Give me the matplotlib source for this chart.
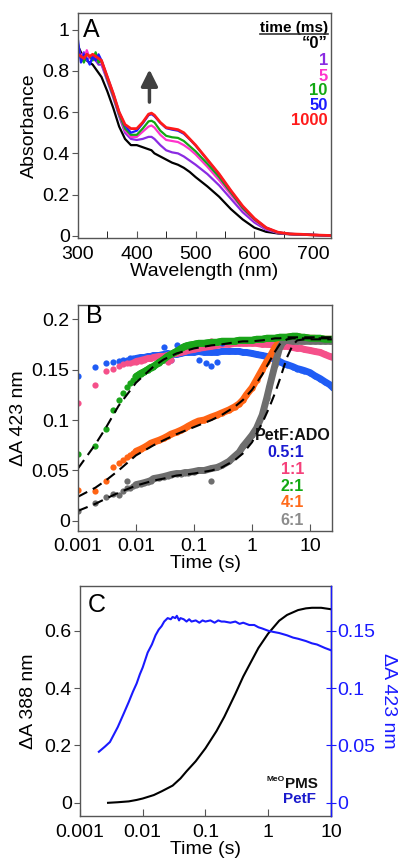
import numpy as np
import matplotlib
matplotlib.use("Agg")
import matplotlib.pyplot as plt
from matplotlib.lines import Line2D

plt.rcParams['font.family'] = ['Liberation Sans', 'DejaVu Sans']
plt.rcParams['axes.linewidth'] = 1.0

# ---------------- Panel A data ----------------
wl = [300, 305, 310, 315, 320, 325, 330, 335, 340, 350, 360, 370, 380, 390, 400, 410,
      420, 425, 430, 440, 450, 460, 470, 480, 490, 500, 520, 540, 560, 580, 600, 620,
      640, 660, 680, 700, 730]
abs_0 = [0.92, 0.89, 0.86, 0.85, 0.84, 0.83, 0.81, 0.79, 0.77, 0.70, 0.62, 0.53, 0.47, 0.44, 0.44, 0.43,
         0.42, 0.415, 0.40, 0.385, 0.37, 0.355, 0.345, 0.33, 0.31, 0.285, 0.24, 0.19, 0.13, 0.08, 0.04, 0.02,
         0.012, 0.008, 0.006, 0.004, 0.002]
abs_1 = [0.93, 0.86, 0.89, 0.85, 0.87, 0.86, 0.85, 0.83, 0.83, 0.75, 0.67, 0.58, 0.50, 0.47, 0.465, 0.47,
         0.48, 0.48, 0.47, 0.44, 0.415, 0.405, 0.40, 0.385, 0.365, 0.345, 0.30, 0.245, 0.18, 0.115, 0.065, 0.03,
         0.014, 0.009, 0.007, 0.005, 0.002]
abs_5 = [0.90, 0.88, 0.85, 0.90, 0.86, 0.88, 0.85, 0.87, 0.84, 0.76, 0.68, 0.59, 0.51, 0.48, 0.48, 0.505,
         0.53, 0.535, 0.525, 0.49, 0.465, 0.46, 0.455, 0.44, 0.42, 0.395, 0.335, 0.27, 0.20, 0.13, 0.075, 0.035,
         0.015, 0.01, 0.007, 0.005, 0.002]
abs_10 = [0.89, 0.87, 0.84, 0.88, 0.87, 0.85, 0.89, 0.84, 0.85, 0.76, 0.68, 0.59, 0.52, 0.49, 0.49, 0.52,
          0.555, 0.558, 0.55, 0.51, 0.485, 0.478, 0.475, 0.46, 0.435, 0.41, 0.35, 0.285, 0.21, 0.135, 0.08, 0.038,
          0.016, 0.01, 0.007, 0.005, 0.002]
abs_50 = [0.95, 0.84, 0.88, 0.86, 0.83, 0.87, 0.85, 0.88, 0.85, 0.77, 0.69, 0.60, 0.535, 0.50, 0.51, 0.545,
          0.585, 0.59, 0.58, 0.548, 0.522, 0.515, 0.51, 0.495, 0.468, 0.438, 0.368, 0.298, 0.218, 0.142, 0.083, 0.04,
          0.017, 0.01, 0.008, 0.005, 0.002]
abs_1000 = [0.88, 0.87, 0.86, 0.88, 0.87, 0.88, 0.87, 0.86, 0.85, 0.77, 0.69, 0.60, 0.54, 0.52, 0.52, 0.55,
            0.59, 0.595, 0.585, 0.55, 0.525, 0.52, 0.515, 0.50, 0.47, 0.44, 0.37, 0.30, 0.22, 0.145, 0.085, 0.04,
            0.018, 0.01, 0.008, 0.005, 0.002]
time_labels = ['\u201c0\u201d', '1', '5', '10', '50', '1000']
colors_A = ['#000000', '#8a2be2', '#ff33cc', '#12a812', '#1a1aff', '#ff1a1a']

# ---------------- Panel B data ----------------
tB = [0.001, 0.002, 0.003, 0.004, 0.005, 0.006, 0.007, 0.008, 0.009, 0.01,
      0.012, 0.014, 0.016, 0.018, 0.02, 0.025, 0.03, 0.035, 0.04, 0.05, 0.06, 0.07, 0.08,
      0.1, 0.12, 0.15, 0.2, 0.25, 0.3, 0.4, 0.5, 0.6, 0.7, 0.8, 1.0, 1.2, 1.5, 1.8,
      2.0, 2.5, 3.0, 3.5, 4.0, 5.0, 6.0, 7.0, 8.0, 10, 12, 15, 18, 22, 25]
dA_05 = [0.1435, 0.153, 0.157, 0.158, 0.159, 0.16, 0.16, 0.161, 0.161, 0.161,
         0.162, 0.162, 0.163, 0.163, 0.164, 0.164, 0.165, 0.166, 0.165, 0.165, 0.166, 0.167, 0.167,
         0.167, 0.168, 0.167, 0.167, 0.167, 0.168, 0.168, 0.168, 0.168, 0.167, 0.167, 0.166, 0.165, 0.164, 0.163,
         0.162, 0.16, 0.158, 0.156, 0.155, 0.153, 0.151, 0.15, 0.149, 0.147, 0.144, 0.141, 0.138, 0.135, 0.132]
dA_1 = [0.117, 0.1345, 0.149, 0.151, 0.154, 0.156, 0.157, 0.157, 0.158, 0.158,
        0.159, 0.16, 0.161, 0.161, 0.162, 0.163, 0.163, 0.164, 0.165, 0.166, 0.167, 0.168, 0.169,
        0.17, 0.171, 0.172, 0.173, 0.174, 0.175, 0.175, 0.176, 0.176, 0.176, 0.176, 0.176, 0.176, 0.175, 0.175,
        0.175, 0.174, 0.174, 0.173, 0.173, 0.172, 0.171, 0.171, 0.17, 0.169, 0.168, 0.167, 0.165, 0.163, 0.162]
dA_2 = [0.066, 0.074, 0.0915, 0.11, 0.12, 0.127, 0.133, 0.137, 0.14, 0.143,
        0.146, 0.148, 0.15, 0.152, 0.153, 0.157, 0.16, 0.163, 0.165, 0.168, 0.171, 0.173, 0.174,
        0.175, 0.176, 0.176, 0.177, 0.177, 0.178, 0.178, 0.178, 0.179, 0.179, 0.179, 0.179, 0.18, 0.18, 0.181,
        0.181, 0.181, 0.182, 0.182, 0.182, 0.183, 0.183, 0.182, 0.182, 0.181, 0.181, 0.181, 0.18, 0.18, 0.18]
dA_4 = [0.031, 0.030, 0.040, 0.0535, 0.0575, 0.06, 0.063, 0.065, 0.067, 0.069,
        0.071, 0.073, 0.075, 0.077, 0.078, 0.08, 0.082, 0.084, 0.086, 0.088, 0.09, 0.092, 0.094,
        0.097, 0.099, 0.1, 0.103, 0.105, 0.107, 0.11, 0.113, 0.116, 0.12, 0.125, 0.132, 0.14, 0.15, 0.158,
        0.162, 0.172, 0.178, 0.181, 0.182, 0.182, 0.182, 0.182, 0.181, 0.181, 0.181, 0.18, 0.18, 0.18, 0.18]
dA_6 = [0.0099, 0.018, 0.024, 0.027, 0.026, 0.03, 0.033, 0.033, 0.035, 0.036,
        0.037, 0.038, 0.039, 0.04, 0.042, 0.043, 0.044, 0.045, 0.046, 0.047, 0.047, 0.048, 0.048,
        0.049, 0.05, 0.05, 0.052, 0.053, 0.055, 0.059, 0.064, 0.068, 0.074, 0.078, 0.085, 0.092, 0.105, 0.122,
        0.133, 0.155, 0.172, 0.178, 0.179, 0.178, 0.178, 0.178, 0.178, 0.178, 0.178, 0.178, 0.178, 0.178, 0.178]
# scattered outlier points seen off the bands
t_out_05 = [0.03, 0.04, 0.05, 0.12, 0.16, 0.2, 0.25, 0.3]
dA_out_05 = [0.172, 0.16, 0.174, 0.16, 0.157, 0.154, 0.158, 0.176]
t_out_1 = [0.035, 0.04, 0.2]
dA_out_1 = [0.158, 0.16, 0.178]
t_out_6 = [0.007, 0.2]
dA_out_6 = [0.04, 0.04]
tFit = [0.001, 0.002, 0.003, 0.005, 0.01, 0.02, 0.03, 0.05, 0.1, 0.2, 0.3, 0.5, 0.7, 1.0, 1.5, 2.0,
        2.5, 3.0, 4.0, 5.0, 6.0, 8.0, 12, 25]
fit_2 = [0.052, 0.076, 0.092, 0.114, 0.137, 0.153, 0.16, 0.166, 0.171, 0.174, 0.175, 0.177, 0.178, 0.178,
         0.179, 0.18, 0.181, 0.181, 0.182, 0.182, 0.182, 0.182, 0.182, 0.182]
fit_4 = [0.024, 0.033, 0.04, 0.05, 0.065, 0.075, 0.08, 0.086, 0.093, 0.1, 0.105, 0.113, 0.12, 0.13,
         0.145, 0.158, 0.168, 0.175, 0.18, 0.181, 0.181, 0.181, 0.181, 0.181]
fit_6 = [0.01, 0.017, 0.022, 0.028, 0.035, 0.04, 0.042, 0.045, 0.047, 0.05, 0.053, 0.06, 0.067, 0.078,
         0.097, 0.113, 0.127, 0.14, 0.162, 0.174, 0.179, 0.18, 0.18, 0.18]
ratio_labels = ['0.5:1', '1:1', '2:1', '4:1', '6:1']
colors_B = ['#1f5cf5', '#f5508a', '#1aa51a', '#ff6414', '#6e6e6e']
text_colors_B = ['#1a1ad0', '#f5407a', '#12a812', '#ff6a1a', '#8c8c8c']

# ---------------- Panel C data ----------------
tC_pms = [0.0028, 0.004, 0.006, 0.008, 0.01, 0.015, 0.02, 0.03, 0.04, 0.05, 0.07, 0.1, 0.15, 0.2,
          0.3, 0.4, 0.5, 0.7, 1.0, 1.5, 2.0, 3.0, 4.0, 5.0, 7.0, 10]
dA388 = [0.0, 0.002, 0.005, 0.01, 0.015, 0.027, 0.04, 0.06, 0.085, 0.11, 0.145, 0.19, 0.25, 0.3,
         0.38, 0.44, 0.48, 0.54, 0.59, 0.635, 0.655, 0.672, 0.678, 0.68, 0.68, 0.675]
tC_petf = [0.002, 0.0025, 0.003, 0.004, 0.005, 0.006, 0.007, 0.008, 0.009, 0.01, 0.012, 0.014, 0.016,
           0.018, 0.02, 0.022, 0.025, 0.028, 0.03, 0.033, 0.035, 0.038, 0.04, 0.045, 0.05, 0.055,
           0.06, 0.07, 0.08, 0.09, 0.1, 0.12, 0.14, 0.16, 0.18, 0.2, 0.25, 0.3, 0.35, 0.4, 0.5, 0.6,
           0.7, 0.8, 1.0, 1.2, 1.5, 2.0, 2.5, 3.0, 4.0, 5.0, 6.0, 8.0, 10]
dA423 = [0.0445, 0.049, 0.053, 0.066, 0.078, 0.088, 0.097, 0.104, 0.112, 0.118, 0.131, 0.138, 0.146,
         0.151, 0.154, 0.158, 0.161, 0.16, 0.162, 0.161, 0.163, 0.159, 0.161, 0.16, 0.158, 0.16,
         0.158, 0.159, 0.157, 0.159, 0.158, 0.159, 0.157, 0.159, 0.158, 0.158, 0.157, 0.158, 0.156, 0.157, 0.155, 0.155,
         0.153, 0.152, 0.15, 0.149, 0.148, 0.146, 0.144, 0.143, 0.141, 0.139, 0.138, 0.135, 0.133]

FS = 14
LFS = 18
fig = plt.figure(figsize=(4.04, 8.68), dpi=100)
spine_col = '#555555'

# ---------- Panel A ----------
axA = fig.add_axes([0.193, 0.7258, 0.626, 0.2592])
for ys, c in zip([abs_0, abs_1, abs_5, abs_10, abs_50, abs_1000], colors_A):
    axA.plot(wl, ys, color=c, lw=1.6 if c != '#ff1a1a' else 2.0)
axA.set_xlim(300, 730)
axA.set_ylim(-0.01, 1.08)
axA.set_xticks([300, 400, 500, 600, 700])
axA.set_xticks([350, 450, 550, 650], minor=True)
axA.set_yticks([0, 0.2, 0.4, 0.6, 0.8, 1.0])
axA.set_yticklabels(['0', '0.2', '0.4', '0.6', '0.8', '1'])
axA.tick_params(axis='x', which='both', direction='in', length=5, labelsize=FS, pad=6)
axA.tick_params(axis='y', direction='out', length=4, labelsize=FS, pad=2)
axA.set_xlabel('Wavelength (nm)', fontsize=FS, labelpad=0)
axA.set_ylabel('Absorbance', fontsize=FS, labelpad=3)
axA.text(0.02, 0.925, 'A', transform=axA.transAxes, fontsize=LFS, va='center', ha='left')
axA.annotate('', xy=(421.5, 0.82), xytext=(421.5, 0.635),
             arrowprops=dict(arrowstyle='-|>,head_width=0.5,head_length=1.0', color='#404040', lw=2.5))
ttl = axA.text(0.988, (238 - 28) / 225, 'time (ms)', transform=axA.transAxes, ha='right', va='center',
               fontsize=11, fontweight='bold')
ys_leg = [43, 60, 76, 90, 105, 120]
for lab, c, yp in zip(time_labels, colors_A, ys_leg):
    axA.text(0.988, (238 - yp) / 225, lab, transform=axA.transAxes, ha='right', va='center',
             fontsize=12, fontweight='bold', color=c)

# ---------- Panel B ----------
axB = fig.add_axes([0.193, 0.3882, 0.629, 0.2604])
tB_arr = np.array(tB)
dense = tB_arr >= 0.01
for ys, c in zip([dA_05, dA_1, dA_2, dA_4, dA_6], colors_B):
    ys = np.array(ys)
    axB.plot(tB_arr[dense], ys[dense], color=c, lw=5, solid_capstyle='round')
    axB.plot(tB_arr, ys, 'o', color=c, ms=4.5, mew=0)
for tt, vv, c in [(t_out_05, dA_out_05, colors_B[0]), (t_out_1, dA_out_1, colors_B[1]),
                  (t_out_6, dA_out_6, colors_B[4])]:
    axB.plot(tt, vv, 'o', color=c, ms=4.5, mew=0)
axB.plot(tB_arr[dense], np.array(dA_2)[dense], color=colors_B[2], lw=5, solid_capstyle='round')
for ys in [fit_2, fit_4, fit_6]:
    axB.plot(tFit, ys, color='black', lw=1.5, ls=(0, (5, 3)))
axB.set_xscale('log')
axB.set_xlim(0.001, 24)
axB.set_ylim(-0.01, 0.214)
axB.set_xticks([0.001, 0.01, 0.1, 1, 10])
axB.set_xticklabels(['0.001', '0.01', '0.1', '1', '10'])
axB.xaxis.set_minor_locator(matplotlib.ticker.NullLocator())
axB.set_yticks([0, 0.05, 0.1, 0.15, 0.2])
axB.set_yticklabels(['0', '0.05', '0.1', '0.15', '0.2'])
axB.tick_params(axis='x', direction='in', length=5, labelsize=FS, pad=5)
axB.tick_params(axis='y', direction='out', length=4, labelsize=FS, pad=2)
axB.set_xlabel('Time (s)', fontsize=FS, labelpad=0)
axB.set_ylabel('\u0394A 423 nm', fontsize=FS, labelpad=3)
axB.text(0.03, 0.95, 'B', transform=axB.transAxes, fontsize=LFS, va='center', ha='left')
axB.text(0.995, (531 - 435) / 226, 'PetF:ADO', transform=axB.transAxes, ha='right', va='center',
         fontsize=11.5, fontweight='bold', color='#111111')
for lab, c, yp in zip(ratio_labels, text_colors_B, [452, 469, 486, 502, 520]):
    axB.text(0.89, (531 - yp) / 226, lab, transform=axB.transAxes, ha='right', va='center',
             fontsize=11.5, fontweight='bold', color=c)

# ---------- Panel C ----------
axC = fig.add_axes([0.198, 0.0599, 0.621, 0.265])
axC.plot(tC_pms, dA388, color='black', lw=1.5)
axC.set_xscale('log')
axC.set_xlim(0.001, 10)
axC.set_ylim(-0.046, 0.756)
axC.set_xticks([0.001, 0.01, 0.1, 1, 10])
axC.set_xticklabels(['0.001', '0.01', '0.1', '1', '10'])
axC.xaxis.set_minor_locator(matplotlib.ticker.NullLocator())
axC.set_yticks([0, 0.2, 0.4, 0.6])
axC.set_yticklabels(['0', '0.2', '0.4', '0.6'])
axC.tick_params(axis='x', direction='in', length=5, labelsize=FS, pad=6)
axC.tick_params(axis='y', direction='out', length=4, labelsize=FS, pad=2)
axC.set_xlabel('Time (s)', fontsize=FS, labelpad=0)
axC.set_ylabel('\u0394A 388 nm', fontsize=FS, labelpad=5)
axC.text(0.03, 0.917, 'C', transform=axC.transAxes, fontsize=LFS, va='center', ha='left')
axR = axC.twinx()
axR.plot(tC_petf, dA423, color='#1a1aff', lw=1.5)
axR.set_ylim(-0.0115, 0.189)
axR.set_yticks([0, 0.05, 0.1, 0.15])
axR.set_yticklabels(['0', '0.05', '0.1', '0.15'])
axR.tick_params(axis='y', direction='inout', length=7, labelsize=FS, colors='#1a1aff', pad=1)
axR.spines['right'].set_color('#1a1aff')
axR.set_ylabel('\u0394A 423 nm', fontsize=FS, color='#1a1aff', rotation=270, labelpad=16)
pms = axC.text(0.948, 0.14, 'PMS', transform=axC.transAxes, ha='right', va='center',
               fontsize=11, fontweight='bold', color='#111111')
axC.annotate('MeO', xy=(0, 1), xycoords=pms, ha='right', va='top', fontsize=6,
             fontweight='bold', color='#111111', xytext=(0, 0.5), textcoords='offset points')
axC.text(0.94, 0.072, 'PetF', transform=axC.transAxes, ha='right', va='center',
         fontsize=11, fontweight='bold', color='#1a1acc')

for ax in [axA, axB, axC]:
    for s in ['left', 'bottom', 'top']:
        ax.spines[s].set_color(spine_col)
    ax.tick_params(color=spine_col)
for ax in [axA, axB]:
    ax.spines['right'].set_color(spine_col)
axR.spines['left'].set_visible(False)
axR.spines['top'].set_visible(False)
axR.spines['bottom'].set_visible(False)

# underline of legend title in panel A
fig.canvas.draw()
bb = ttl.get_window_extent(renderer=fig.canvas.get_renderer())
inv = fig.transFigure.inverted()
(x0, y0), (x1, y1) = inv.transform([[bb.x0, bb.y0], [bb.x1, bb.y0]])
fig.add_artist(Line2D([x0, x1], [y0 + 0.0008, y1 + 0.0008], transform=fig.transFigure, color='#333333', lw=1.2))

fig.savefig('out.png', dpi=100)
